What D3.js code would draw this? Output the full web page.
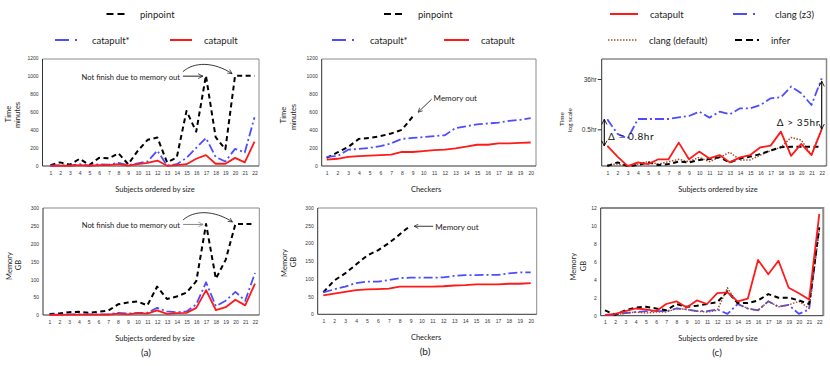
<!DOCTYPE html>
<html>
<head>
<meta charset="utf-8">
<script src="https://cdn.jsdelivr.net/npm/d3@7"></script>
<style>
body { margin: 0; background: #fff; }
svg { font-family: Lato, "Noto Sans", sans-serif; }
</style>
</head>
<body>
<svg id="chart" width="830" height="366"></svg>
<script>
// categories
var subjects = [1,2,3,4,5,6,7,8,9,10,11,12,13,14,15,16,17,18,19,20,21,22]
var checkers = [1,2,3,4,5,6,7,8,9,10,11,12,13,14,15,16,17,18,19,20]

// (a) time in minutes
var aTimePinpoint = [10,40,15,80,10,90,85,140,20,170,290,315,40,95,610,380,1000,320,185,1000,1000,1000]
var aTimeCatStar  = [5,10,5,20,5,20,15,35,10,30,50,170,5,20,90,200,310,100,50,190,150,540]
var aTimeCatapult = [2,5,3,10,3,10,10,20,5,20,35,60,2,10,20,80,120,25,25,90,40,270]
// (a) memory in GB
var aMemPinpoint = [3,4,8,9,6,9,12,30,35,38,27,80,45,52,63,95,256,102,155,256,256,256]
var aMemCatStar  = [1,1,2,2,2,2,2,6,4,6,6,20,10,8,10,30,92,25,40,65,40,118]
var aMemCatapult = [0.5,0.5,1,1,1,1,1,4,2,5,4,13,3,5,6,20,70,14,22,43,27,88]

// (b) time in minutes
var bTimePinpoint = [90,150,210,300,310,330,360,400,545]
var bTimeCatStar  = [100,110,180,190,200,220,250,300,310,320,330,340,420,440,460,470,480,500,510,530]
var bTimeCatapult = [70,80,100,110,115,120,125,155,155,165,175,180,195,215,235,235,250,250,255,260]
// (b) memory in GB
var bMemPinpoint = [62,95,115,140,165,180,200,225,250]
var bMemCatStar  = [62,70,78,88,92,92,96,102,103,103,103,104,108,110,110,111,111,115,118,118]
var bMemCatapult = [53,58,63,68,70,71,72,78,78,78,78,79,81,82,84,84,84,86,86,88]

// (c) time in hours (log scale)
var cTimeCatapult = [0.121,0.049,0.022,0.03,0.026,0.039,0.039,0.161,0.039,0.075,0.042,0.056,0.03,0.046,0.056,0.108,0.125,0.41,0.052,0.144,0.056,0.5]
var cTimeZ3       = [1.17,0.34,0.23,1.2,1.2,1.2,1.2,1.39,1.55,2.23,1.35,2.23,1.79,2.98,2.98,3.94,6.97,7.6,19,10.7,3.94,38]
var cTimeDefault  = [0.024,0.026,0.022,0.026,0.032,0.026,0.032,0.039,0.032,0.046,0.032,0.046,0.071,0.037,0.037,0.056,0.082,0.108,0.25,0.2,0.056,0.54]
var cTimeInfer    = [0.022,0.03,0.022,0.024,0.03,0.024,0.026,0.032,0.03,0.037,0.04,0.046,0.03,0.042,0.049,0.061,0.082,0.108,0.114,0.114,0.114,0.114]
// (c) memory in GB
var cMemCatapult = [0.1,0.2,0.5,0.8,0.7,0.5,1.3,1.6,0.9,1.7,1.3,2.5,2.6,1.6,1.9,6.2,4.6,6.1,3.1,2.5,1.8,11.3]
var cMemZ3       = [0.1,0.1,0.3,0.4,0.5,0.5,0.5,0.8,0.7,0.5,0.5,0.7,0.2,1.3,0.8,0.6,1.6,1.0,1.2,0.2,0.7,10]
var cMemDefault  = [0.1,0.1,0.3,0.4,0.3,0.4,0.4,0.8,0.7,0.5,0.4,0.6,3.1,1.3,0.8,0.6,1.6,1.0,1.2,1.6,0.8,9.5]
var cMemInfer    = [0.6,0.1,0.6,0.9,1.0,0.8,0.6,1.3,1.0,1.1,1.3,1.5,2.7,1.4,1.4,1.7,2.4,2.0,2.0,1.7,1.3,9.8]

var countTicks = [0,200,400,600,800,1000,1200]
var memTicksAB = [0,50,100,150,200,250,300]
var memTicksC = [0,2,4,6,8,10,12]
var hrTicks = [0.5,36]

var styles = {
    pinpoint: { color: "#000", dash: "5,3.5", width: 2 },
    catStar: { color: "#4d4dff", dash: "9,3,2,3", width: 1.8 },
    catapult: { color: "#ff1a1a", dash: null, width: 1.8 },
    z3: { color: "#4d4dff", dash: "9,3,2,3", width: 1.8 },
    clangDefault: { color: "#a0522d", dash: "1.5,1.5", width: 1.5 },
    infer: { color: "#000", dash: "5,3.5", width: 2 }
}

var svg = d3.select("#chart")
svg.append("defs").append("marker")
    .attr("id", "head").attr("viewBox", "0 0 10 10").attr("refX", 9).attr("refY", 5)
    .attr("markerWidth", 6).attr("markerHeight", 6).attr("orient", "auto-start-reverse")
    .append("path").attr("d", "M1,1 L9,5 L1,9").attr("fill", "none").attr("stroke", "context-stroke").attr("stroke-width", 1.3)

function styled(sel, s) {
    sel.attr("fill", "none").attr("stroke", s.color).attr("stroke-width", s.width)
    if (s.dash) sel.attr("stroke-dasharray", s.dash)
    return sel
}

function drawPanel(p) {
    var g = svg.append("g")
    var x = d3.scaleLinear().domain([p.cats[0], p.cats[p.cats.length - 1]]).range(p.xr)
    var y = (p.log ? d3.scaleLog() : d3.scaleLinear()).domain(p.yd).range(p.yr)
    var b = p.box

    // frame: light top/right, dark left/bottom
    g.append("path").attr("d", `M${b[0]},${b[1]}H${b[2]}V${b[3]}`)
        .attr("fill", "none").attr("stroke", "#8a8a8a").attr("stroke-width", p.rightW || 1)
    g.append("path").attr("d", `M${b[0]},${b[1]}V${b[3]}H${b[2]}`)
        .attr("fill", "none").attr("stroke", "#333").attr("stroke-width", 1)

    var xa = d3.axisBottom(x).tickValues(p.cats).tickSize(0).tickPadding(5)
    var xg = g.append("g").attr("transform", `translate(0,${b[3]})`).call(xa)
    xg.select(".domain").remove()
    xg.selectAll("text").attr("font-size", 5).attr("fill", "#333").attr("font-family", null)

    var ya = d3.axisLeft(y).tickValues(p.yticks).tickSize(p.ytickSize || 0).tickPadding(p.ytickPad || 4)
        .tickFormat(p.yfmt || d3.format("d"))
    var yg = g.append("g").attr("transform", `translate(${b[0]},0)`).call(ya)
    yg.select(".domain").remove()
    yg.selectAll("line").attr("stroke", "#333")
    yg.selectAll("text").attr("font-size", p.yfont || 5).attr("fill", "#333").attr("font-family", null)

    var line = d3.line().x(function (d, i) { return x(p.cats[i]) }).y(function (d) { return y(d) })
    p.series.forEach(function (s) {
        styled(g.append("path").attr("d", line(s.values)), styles[s.key])
            .attr("stroke-linejoin", "round")
    })

    // y title (two rotated lines)
    p.ytitle.forEach(function (t) {
        g.append("text").attr("transform", `translate(${t.x},${t.y}) rotate(-90)`)
            .attr("text-anchor", "middle").attr("dominant-baseline", "central")
            .attr("font-size", t.size || 7.5).attr("fill", "#222").text(t.text)
    })
    // x title
    g.append("text").attr("x", p.xtX).attr("y", b[3] + 23)
        .attr("text-anchor", "middle").attr("dominant-baseline", "central")
        .attr("font-size", 7.5).attr("fill", "#222").text(p.xtitle)
    if (p.caption) {
        g.append("text").attr("x", p.capX).attr("y", b[3] + 36.5)
            .attr("text-anchor", "middle").attr("dominant-baseline", "central")
            .attr("font-size", 10).attr("fill", "#222").text(p.caption)
    }
    return { g: g, x: x, y: y }
}

function legendItem(key, label, lx, ly, len) {
    var s = styles[key]
    var l = svg.append("line").attr("x1", lx).attr("x2", lx + len).attr("y1", ly).attr("y2", ly)
    styled(l, s)
    if (key === "pinpoint" || key === "infer") l.attr("stroke-dasharray", "7,4").attr("stroke-width", 2.2)
    if (key === "catStar" || key === "z3") l.attr("stroke-dasharray", "14,6,2,40").attr("stroke-width", 2)
    if (key === "catapult") l.attr("stroke-width", 2)
    svg.append("text").attr("x", lx + len + 12).attr("y", ly).attr("dominant-baseline", "central")
        .attr("font-size", 9.5).attr("fill", "#222").text(label)
}

// ---------------- (a) ----------------
var aTop = drawPanel({
    box: [42.5, 59, 259, 166], cats: subjects, xr: [50.5, 254.5], yd: [0, 1200], yr: [166, 57.6],
    yticks: countTicks,
    series: [{ key: "pinpoint", values: aTimePinpoint }, { key: "catStar", values: aTimeCatStar }, { key: "catapult", values: aTimeCatapult }],
    ytitle: [{ text: "Time", x: 8.5, y: 114 }, { text: "minutes", x: 17.5, y: 115 }],
    xtitle: "Subjects ordered by size", xtX: 155
})
var aBot = drawPanel({
    box: [43, 208, 259.3, 315], cats: subjects, xr: [49.5, 255], yd: [0, 300], yr: [315, 208.3],
    yticks: memTicksAB,
    series: [{ key: "pinpoint", values: aMemPinpoint }, { key: "catStar", values: aMemCatStar }, { key: "catapult", values: aMemCatapult }],
    ytitle: [{ text: "Memory", x: 9.3, y: 266 }, { text: "GB", x: 18.3, y: 265 }],
    xtitle: "Subjects ordered by size", xtX: 155, caption: "(a)", capX: 146
})

function memoryOutNote(pn, yv, arrowColor) {
    var px17 = pn.x(17), px20 = pn.x(20), py = pn.y(yv)
    pn.g.append("text").attr("x", px17 - 26).attr("y", py + 1).attr("text-anchor", "end")
        .attr("dominant-baseline", "central").attr("font-size", 7.6).attr("fill", "#222").text("Not finish due to memory out")
    pn.g.append("path").attr("d", `M${px17 - 23},${py + 0.5}H${px17 - 3}`)
        .attr("stroke", arrowColor).attr("stroke-width", 1).attr("fill", "none").attr("marker-end", "url(#head)")
    pn.g.append("path").attr("d", `M${px17 - 23},${py - 4} C${px17 - 12},${py - 14} ${px17 + 8},${py - 14} ${px20 - 3},${py - 2}`)
        .attr("stroke", "#222").attr("stroke-width", 0.9).attr("fill", "none").attr("marker-end", "url(#head)")
}
memoryOutNote(aTop, 1000, "#222")
memoryOutNote(aBot, 256, "#888")

// ---------------- (b) ----------------
var bTop = drawPanel({
    box: [321.7, 59, 536, 166], cats: checkers, xr: [326.7, 530.7], yd: [0, 1200], yr: [166, 57.5],
    yticks: countTicks,
    series: [{ key: "pinpoint", values: bTimePinpoint }, { key: "catStar", values: bTimeCatStar }, { key: "catapult", values: bTimeCatapult }],
    ytitle: [{ text: "Time", x: 283.5, y: 115 }, { text: "minutes", x: 293.3, y: 117 }],
    xtitle: "Checkers", xtX: 426
})
var bBot = drawPanel({
    box: [317.7, 208, 536.7, 314.3], cats: checkers, xr: [323.3, 530.7], yd: [0, 300], yr: [314.3, 207.7],
    yticks: memTicksAB,
    series: [{ key: "pinpoint", values: bMemPinpoint }, { key: "catStar", values: bMemCatStar }, { key: "catapult", values: bMemCatapult }],
    ytitle: [{ text: "Memory", x: 284, y: 263 }, { text: "GB", x: 293.3, y: 262 }],
    xtitle: "Checkers", xtX: 426, caption: "(b)", capX: 425
})
bTop.g.append("text").attr("x", bTop.x(9) + 21).attr("y", bTop.y(545) - 19).attr("dominant-baseline", "central")
    .attr("font-size", 8).attr("fill", "#222").text("Memory out")
bTop.g.append("path").attr("d", `M${bTop.x(9) + 19},${bTop.y(545) - 17.5}L${bTop.x(9) + 5.5},${bTop.y(545) - 4.5}`)
    .attr("stroke", "#222").attr("stroke-width", 0.9).attr("fill", "none").attr("marker-end", "url(#head)")
bBot.g.append("text").attr("x", bBot.x(9) + 24.5).attr("y", bBot.y(250) + 1.2).attr("dominant-baseline", "central")
    .attr("font-size", 8).attr("fill", "#222").text("Memory out")
bBot.g.append("path").attr("d", `M${bBot.x(9) + 22.5},${bBot.y(250) + 0.8}H${bBot.x(9) + 3.5}`)
    .attr("stroke", "#222").attr("stroke-width", 0.9).attr("fill", "none").attr("marker-end", "url(#head)")

// ---------------- (c) ----------------
var cTop = drawPanel({
    box: [601.7, 59, 826.5, 166], cats: subjects, xr: [607.3, 821.7], yd: [0.5, 36], yr: [129.3, 79], log: true,
    yticks: hrTicks, yfmt: function (d) { return d + "hr" }, ytickSize: 4, ytickPad: 1, yfont: 6.5, rightW: 1.5,
    series: [{ key: "z3", values: cTimeZ3 }, { key: "clangDefault", values: cTimeDefault }, { key: "infer", values: cTimeInfer }, { key: "catapult", values: cTimeCatapult }],
    ytitle: [{ text: "Time", x: 561, y: 119, size: 6.4 }, { text: "log scale", x: 569.7, y: 120, size: 6.4 }],
    xtitle: "Subjects ordered by size", xtX: 718
})
var cBot = drawPanel({
    box: [600.7, 208, 823.3, 315.7], cats: subjects, xr: [605, 819.3], yd: [0, 12], yr: [315.7, 207.7],
    yticks: memTicksC, rightW: 2,
    series: [{ key: "z3", values: cMemZ3 }, { key: "clangDefault", values: cMemDefault }, { key: "infer", values: cMemInfer }, { key: "catapult", values: cMemCatapult }],
    ytitle: [{ text: "Memory", x: 573, y: 266.7 }, { text: "GB", x: 583, y: 266 }],
    xtitle: "Subjects ordered by size", xtX: 718, caption: "(c)", capX: 717
})

function doubleArrow(pn, xp, v0, v1) {
    pn.g.append("path").attr("d", `M${xp},${pn.y(v0)}V${pn.y(v1)}`)
        .attr("stroke", "#000").attr("stroke-width", 1.1).attr("fill", "none")
        .attr("marker-start", "url(#head)").attr("marker-end", "url(#head)")
}
doubleArrow(cTop, 604.3, cTimeZ3[0], cTimeCatapult[0])
doubleArrow(cTop, cTop.x(22), 30, cTimeCatapult[21])
cTop.g.append("text").attr("x", 608).attr("y", 135.5).attr("dominant-baseline", "central")
    .attr("font-size", 10).attr("letter-spacing", 0.6).attr("fill", "#111").text("Δ = 0.8hr")
cTop.g.append("text").attr("x", 820).attr("y", 121.5).attr("text-anchor", "end").attr("dominant-baseline", "central")
    .attr("font-size", 10).attr("letter-spacing", 0.6).attr("fill", "#111").text("Δ > 35hr")

// ---------------- legends ----------------
legendItem("pinpoint", "pinpoint", 106.5, 14, 21.5)
legendItem("catStar", "catapult*", 55, 40, 25)
legendItem("catapult", "catapult", 170, 40, 22)
legendItem("pinpoint", "pinpoint", 384, 14, 22)
legendItem("catStar", "catapult*", 332, 40, 26)
legendItem("catapult", "catapult", 444, 40, 25)
legendItem("catapult", "catapult", 610, 14, 28)
legendItem("z3", "clang (z3)", 733, 14, 30)
legendItem("clangDefault", "clang (default)", 608, 40, 29)
legendItem("infer", "infer", 735, 40, 24)
</script>
</body>
</html>
